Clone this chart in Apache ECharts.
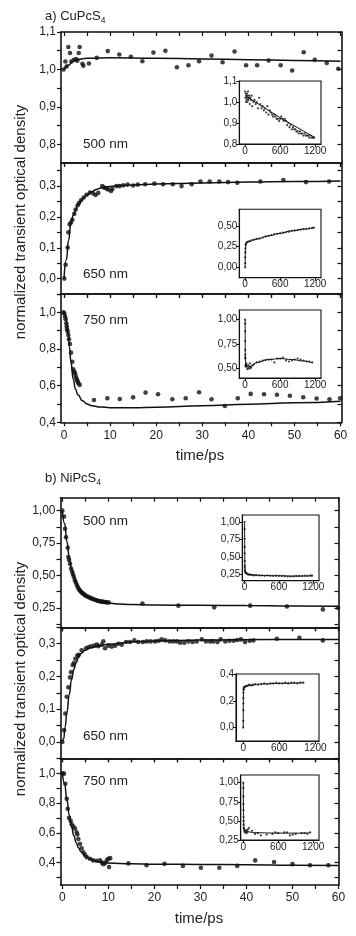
<!DOCTYPE html>
<html><head><meta charset="utf-8">
<script src="https://cdn.jsdelivr.net/npm/echarts@6/dist/echarts.min.js"></script>
<style>html,body{margin:0;padding:0;background:#fff}#c{width:356px;height:936px}</style>
</head><body><div id="c"></div>
<script>
// ---------------- DATA ----------------
// x-axis tick labels (time/ps) and inset x tick labels
const timeTicks = [0, 10, 20, 30, 40, 50, 60];
const timeMinorTicks = [0, 5, 10, 15, 20, 25, 30, 35, 40, 45, 50, 55, 60];
const insetTimeTicks = [0, 600, 1200];

// y tick labels
const cu500Ticks = [0.8, 0.9, 1.0, 1.1];
const cu650Ticks = [0.0, 0.1, 0.2, 0.3];
const cu750Ticks = [0.4, 0.6, 0.8, 1.0];
const ni500Ticks = [0.25, 0.50, 0.75, 1.00];
const ni650Ticks = [0.0, 0.1, 0.2, 0.3];
const ni750Ticks = [0.4, 0.6, 0.8, 1.0];
const cu500InTicks = [0.8, 0.9, 1.0, 1.1];
const cu650InTicks = [0.00, 0.25, 0.50];
const cu750InTicks = [0.50, 0.75, 1.00];
const ni500InTicks = [0.25, 0.50, 0.75, 1.00];
const ni650InTicks = [0.0, 0.2, 0.4];
const ni750InTicks = [0.25, 0.50, 0.75, 1.00];

// a) CuPcS4, 500 nm
const cu500T = [-0.1,0.58,0.3,0.94,1.3,1.6,2.1,2.6,2.9,3.2,3.4,4.0,4.2,5.4,7.1,9.5,12.0,14.5,17.0,19.4,22.0,24.5,27.0,29.3,32.0,34.4,37.0,39.5,41.9,44.4,47.0,49.5,52.0,54.4,57.0,59.5];
const cu500V = [1.000,1.008,1.021,1.060,1.044,1.021,1.025,1.028,1.023,1.044,1.060,1.015,1.010,1.016,1.031,1.049,1.040,1.034,1.022,1.045,1.050,1.006,1.011,1.022,1.037,1.019,1.048,1.011,1.011,1.024,1.011,0.997,1.046,1.026,1.017,1.002];
const cu500FitT = [0,1,2,3,5,10,20,30,40,50,60];
const cu500FitV = [1.0,1.012,1.022,1.027,1.03,1.031,1.03,1.028,1.026,1.024,1.022];
const cu500InT = [0,5,10,15,20,25,30,35,40,45,50,55,60,70,80,90,100,110,120,140,160,180,200,220,240,260,280,300,320,340,360,380,400,420,440,460,480,500,520,540,560,580,600,620,640,660,680,700,720,740,760,780,800,820,840,860,880,900,920,940,960,980,1000,1020,1040,1060,1080,1100,1120,1140,1160,1180];
const cu500InV = [1.05,1.02,1.04,1.0,1.03,1.01,1.04,1.02,1.0,1.03,1.05,1.01,1.02,1.03,0.99,1.02,1.01,1.03,0.98,1.0,1.01,0.99,1.0,0.97,1.02,0.99,0.97,0.98,0.96,0.97,0.95,0.98,0.94,0.96,0.95,0.94,0.93,0.94,0.93,0.92,0.92,0.91,0.92,0.93,0.92,0.91,0.92,0.91,0.89,0.9,0.88,0.89,0.87,0.88,0.87,0.87,0.86,0.86,0.85,0.86,0.85,0.85,0.84,0.85,0.84,0.84,0.84,0.83,0.84,0.83,0.83,0.83];
const cu500InFitT = [0,600,1200];
const cu500InFitV = [1.03,0.925,0.83];

// a) CuPcS4, 650 nm
const cu650T = [0.07,0.36,0.79,0.94,1.23,1.52,1.81,2.24,2.53,2.96,3.25,3.69,4.26,4.91,5.64,6.36,6.86,7.44,8.3,8.74,9.25,9.6,10.2,10.5,11.4,12.1,12.9,13.8,15.0,16.0,17.6,19.6,21.5,23.6,25.5,27.7,29.6,31.6,33.7,35.6,37.6,42.6,47.6,52.5,57.5];
const cu650V = [0.0,0.045,0.101,0.150,0.176,0.182,0.191,0.210,0.224,0.238,0.245,0.254,0.263,0.272,0.279,0.276,0.271,0.278,0.300,0.295,0.292,0.289,0.284,0.291,0.300,0.300,0.303,0.305,0.302,0.305,0.306,0.308,0.306,0.306,0.300,0.306,0.315,0.315,0.315,0.313,0.311,0.315,0.320,0.313,0.315];
const cu650FitT = [0,0.5,1,1.5,2,2.5,3,4,5,6,7,8,10,12,15,20,30,40,50,60];
const cu650FitV = [0,0.06,0.125,0.18,0.205,0.222,0.238,0.258,0.272,0.282,0.289,0.294,0.299,0.302,0.304,0.307,0.310,0.313,0.315,0.317];
const cu650InT = [0,1,2,3,5,8,15,30,50,80,120,160,200,250,300,350,400,450,500,550,600,650,700,750,800,850,900,950,1000,1050,1100,1150,1180];
const cu650InV = [0,0.05,0.12,0.18,0.23,0.27,0.29,0.3,0.31,0.32,0.33,0.335,0.345,0.35,0.36,0.37,0.38,0.39,0.4,0.405,0.41,0.42,0.425,0.43,0.44,0.445,0.45,0.455,0.46,0.465,0.47,0.475,0.48];
const cu650InFitT = [0,5,20,60,200,400,600,800,1000,1180];
const cu650InFitV = [0,0.22,0.29,0.31,0.34,0.38,0.41,0.44,0.46,0.48];

// a) CuPcS4, 750 nm
const cu750T = [-0.14,0.07,0.22,0.36,0.51,0.58,0.65,0.80,0.94,1.08,1.30,1.52,1.81,2.02,2.24,2.39,2.53,2.68,2.82,2.97,3.11,3.4,6.5,9.4,12.1,15.0,17.7,20.4,23.5,26.4,29.3,32.0,34.9,37.7,40.5,43.4,46.2,49.0,51.9,54.8,57.6,59.9];
const cu750V = [1.0,0.995,0.977,0.962,0.940,0.922,0.907,0.895,0.876,0.853,0.827,0.780,0.730,0.689,0.676,0.667,0.652,0.640,0.631,0.622,0.613,0.604,0.522,0.531,0.527,0.536,0.562,0.553,0.526,0.531,0.564,0.526,0.489,0.531,0.555,0.553,0.550,0.545,0.537,0.530,0.526,0.531];
const cu750FitT = [0,0.3,0.6,0.9,1.2,1.5,2,2.5,3,4,5,6,8,10,12,15,20,30,40,50,60];
const cu750FitV = [1.0,0.985,0.945,0.885,0.81,0.73,0.635,0.58,0.55,0.518,0.5,0.49,0.483,0.48,0.479,0.48,0.482,0.49,0.498,0.506,0.515];
const cu750InT = [0,0.5,1,1.5,2,2.5,3,4,6,9,12,15,20,30,40,50,60,70,80,90,100,120,150,200,250,300,350,400,450,500,550,600,650,700,750,800,850,900,950,1000,1050,1100,1150];
const cu750InV = [1.0,0.96,0.88,0.78,0.69,0.64,0.61,0.6,0.52,0.53,0.53,0.54,0.55,0.52,0.49,0.53,0.5,0.52,0.55,0.5,0.51,0.53,0.54,0.56,0.57,0.58,0.585,0.59,0.59,0.56,0.6,0.6,0.61,0.58,0.57,0.58,0.59,0.6,0.59,0.58,0.57,0.57,0.56];
const cu750InFitT = [0,3,8,30,100,200,400,600,800,1000,1150];
const cu750InFitV = [1.0,0.6,0.52,0.5,0.52,0.56,0.59,0.6,0.59,0.575,0.555];

// b) NiPcS4, 500 nm
const ni500T = [0,0.37,0.59,0.8,1.17,1.3,1.45,1.67,1.9,2.1,2.3,2.5,2.7,2.9,3.1,3.3,3.5,3.7,3.9,4.1,4.3,4.5,4.8,5.0,5.3,5.6,5.9,6.2,6.5,6.8,7.1,7.4,7.7,8.0,8.3,8.6,8.9,9.2,9.5,9.8,10.1,17.4,25.2,33.0,40.8,48.8,56.6,59.9];
const ni500V = [1.0,0.954,0.86,0.795,0.714,0.642,0.62,0.59,0.553,0.53,0.51,0.49,0.465,0.45,0.43,0.415,0.40,0.39,0.38,0.372,0.365,0.36,0.352,0.346,0.34,0.335,0.33,0.325,0.32,0.316,0.312,0.308,0.305,0.302,0.30,0.298,0.296,0.295,0.293,0.292,0.291,0.284,0.267,0.254,0.267,0.260,0.238,0.25];
const ni500FitT = [0,0.5,1,1.5,2,2.5,3,3.5,4,5,6,7,8,9,10,12,15,20,30,40,50,60];
const ni500FitV = [1.0,0.90,0.76,0.64,0.55,0.49,0.44,0.40,0.375,0.345,0.325,0.31,0.30,0.292,0.287,0.28,0.275,0.272,0.27,0.268,0.265,0.262];
const ni500InT = [0,0.5,1,1.5,2,3,4,5,7,10,15,20,30,40,60,80,100,130,160,200,250,300,350,400,450,500,550,600,650,700,750,800,850,900,950,1000,1050,1100,1150,1180];
const ni500InV = [1.0,0.9,0.76,0.64,0.55,0.44,0.375,0.345,0.31,0.29,0.28,0.27,0.265,0.26,0.25,0.245,0.25,0.24,0.235,0.24,0.235,0.235,0.23,0.235,0.23,0.23,0.232,0.23,0.228,0.225,0.22,0.22,0.222,0.228,0.23,0.23,0.232,0.23,0.235,0.232];
const ni500InFitT = [0,2,5,10,40,100,300,600,900,1180];
const ni500InFitV = [1.0,0.55,0.345,0.29,0.26,0.245,0.235,0.23,0.225,0.23];

// b) NiPcS4, 650 nm
const ni650T = [0,0.37,0.65,0.95,1.3,1.67,1.89,2.25,2.5,2.83,3.26,3.56,4.2,5.15,5.65,6.17,6.9,7.5,7.8,8.56,8.9,9.28,10.0,10.74,11.46,12.18,12.9,13.85,14.7,15.65,16.5,17.5,18.35,19.2,20.15,20.9,21.6,22.4,23.3,24.1,24.9,25.6,26.5,27.4,28.3,29.2,30.3,31.2,32.1,32.8,33.7,34.4,35.4,36.3,37.2,38.0,38.8,39.7,40.7,41.5,46.6,51.5,56.6];
const ni650V = [0.0,0.036,0.087,0.138,0.167,0.197,0.213,0.235,0.241,0.254,0.264,0.266,0.28,0.286,0.289,0.292,0.294,0.297,0.292,0.297,0.307,0.286,0.294,0.291,0.294,0.300,0.297,0.305,0.305,0.310,0.305,0.305,0.307,0.307,0.307,0.309,0.313,0.310,0.307,0.307,0.307,0.303,0.303,0.307,0.305,0.307,0.313,0.307,0.307,0.307,0.305,0.313,0.307,0.309,0.309,0.311,0.313,0.305,0.309,0.310,0.315,0.318,0.310];
const ni650FitT = [0,0.3,0.6,1,1.5,2,2.5,3,3.5,4,5,6,8,10,15,20,30,45,60];
const ni650FitV = [0,0.01,0.045,0.09,0.145,0.19,0.222,0.242,0.258,0.27,0.28,0.287,0.293,0.298,0.305,0.308,0.311,0.313,0.313];
const ni650InT = [0,0.5,1,1.5,2,3,4,6,10,20,40,60,80,100,130,160,200,250,300,350,400,450,500,550,600,650,700,750,800,850,900,950,1000];
const ni650InV = [0,0.05,0.13,0.18,0.22,0.26,0.28,0.29,0.3,0.305,0.31,0.31,0.315,0.32,0.315,0.32,0.325,0.32,0.325,0.33,0.325,0.33,0.33,0.335,0.33,0.33,0.335,0.33,0.335,0.335,0.33,0.335,0.335];
const ni650InFitT = [0,4,20,100,300,600,1000];
const ni650InFitV = [0,0.27,0.3,0.315,0.325,0.33,0.335];

// b) NiPcS4, 750 nm
const ni750T = [0,0.37,0.65,0.95,1.17,1.46,1.8,2.04,2.4,2.76,3.1,3.26,3.48,3.85,4.2,4.57,4.93,5.3,6.0,6.7,7.5,8.2,8.6,8.9,9.28,9.65,10.0,10.15,10.4,14.35,18.3,22.2,26.2,30.1,34.1,38.0,41.9,46.0,50.0,53.8,57.8];
const ni750V = [1.0,0.997,0.929,0.828,0.762,0.70,0.68,0.658,0.642,0.629,0.603,0.589,0.558,0.525,0.497,0.47,0.452,0.437,0.426,0.415,0.413,0.415,0.40,0.39,0.397,0.415,0.426,0.37,0.43,0.395,0.382,0.392,0.378,0.366,0.366,0.378,0.415,0.404,0.39,0.382,0.382];
const ni750FitT = [0,0.5,1,1.5,2,2.5,3,3.5,4,5,6,7,8,9,10,15,20,30,40,50,60];
const ni750FitV = [1.0,0.93,0.82,0.72,0.64,0.58,0.535,0.50,0.475,0.445,0.425,0.413,0.405,0.40,0.397,0.393,0.39,0.388,0.386,0.383,0.38];
const ni750InT = [0,0.5,1,1.5,2,3,4,5,7,10,15,20,30,40,50,60,70,80,100,150,200,250,300,400,500,550,600,700,750,800,850,900,1000,1050,1100,1150];
const ni750InV = [1.0,0.93,0.82,0.72,0.64,0.55,0.5,0.45,0.41,0.4,0.38,0.36,0.35,0.37,0.34,0.38,0.35,0.39,0.41,0.37,0.33,0.34,0.31,0.32,0.33,0.35,0.34,0.35,0.35,0.31,0.32,0.33,0.34,0.34,0.33,0.35];
const ni750InFitT = [0,3,10,50,200,600,1000,1150];
const ni750InFitV = [1.0,0.55,0.4,0.36,0.345,0.34,0.34,0.345];

// ---------------- BUILD ----------------
const FONT = '"Liberation Sans", Arial, sans-serif';
const INK = '#111';
const grid = [], xAxis = [], yAxis = [], series = [];
const zip = (a, b) => a.map((v, i) => [v, b[i]]);
const fmt = d => v => Number(v).toFixed(d).replace('.', ',');
const plain = v => String(Math.round(v));

function halfSteps(ticks) {
  const out = ticks.slice();
  for (let i = 0; i < ticks.length - 1; i++) out.push((ticks[i] + ticks[i + 1]) / 2);
  return out;
}

function addMain(p) {
  const g = grid.length;
  grid.push({ left: p.left, top: p.top, width: p.width, height: p.height, show: false, containLabel: false });
  const xi = xAxis.length, yi = yAxis.length;
  const line = { show: true, onZero: false, lineStyle: { color: INK, width: 1.6 } };
  xAxis.push({ type: 'value', gridIndex: g, position: 'bottom', min: p.xMin, max: p.xMax, axisLine: line,
    axisTick: { show: true, inside: false, length: 4, customValues: timeMinorTicks, lineStyle: { color: INK, width: 1.2 } },
    axisLabel: { show: !!p.xLabels, customValues: timeTicks, formatter: plain, margin: 7, fontSize: 12, fontFamily: FONT, color: '#222' },
    splitLine: { show: false } });
  xAxis.push({ type: 'value', gridIndex: g, position: 'top', min: p.xMin, max: p.xMax, axisLine: line,
    axisTick: { show: true, inside: true, length: 4, customValues: timeMinorTicks, lineStyle: { color: INK, width: 1.2 } },
    axisLabel: { show: false }, splitLine: { show: false } });
  const allY = p.yAll || halfSteps(p.yTicks);
  yAxis.push({ type: 'value', gridIndex: g, position: 'left', min: p.yMin, max: p.yMax, axisLine: line,
    axisTick: { show: true, inside: false, length: 4, customValues: allY, lineStyle: { color: INK, width: 1.2 } },
    axisLabel: { show: true, customValues: p.yTicks, formatter: fmt(p.yDec), margin: 5, fontSize: 12, fontFamily: FONT, color: '#222' },
    splitLine: { show: false } });
  yAxis.push({ type: 'value', gridIndex: g, position: 'right', min: p.yMin, max: p.yMax, axisLine: line,
    axisTick: { show: true, inside: true, length: 4, customValues: allY, lineStyle: { color: INK, width: 1.2 } },
    axisLabel: { show: false }, splitLine: { show: false } });
  series.push({ type: 'scatter', xAxisIndex: xi, yAxisIndex: yi, data: zip(p.t, p.v), symbol: 'circle', symbolSize: 4.6,
    itemStyle: { color: INK }, silent: true, z: 3 });
  series.push({ type: 'line', xAxisIndex: xi, yAxisIndex: yi, data: zip(p.ft, p.fv), showSymbol: false, smooth: true,
    smoothMonotone: 'x', lineStyle: { color: INK, width: 1.5 }, silent: true, z: 4 });
}

function addInset(p) {
  const g = grid.length;
  grid.push({ left: p.left, top: p.top, width: p.width, height: p.height, show: true, backgroundColor: '#fff',
    borderColor: INK, borderWidth: 1.1, containLabel: false, z: 5 });
  const xi = xAxis.length, yi = yAxis.length;
  const line = { show: true, onZero: false, lineStyle: { color: INK, width: 1.1 } };
  xAxis.push({ type: 'value', gridIndex: g, position: 'bottom', min: p.xMin, max: p.xMax, axisLine: line, z: 5,
    axisTick: { show: true, inside: false, length: 3, customValues: insetTimeTicks, lineStyle: { color: INK, width: 1 } },
    axisLabel: { show: true, customValues: insetTimeTicks, formatter: plain, margin: 2, fontSize: 10, fontFamily: FONT, color: '#222' },
    splitLine: { show: false } });
  yAxis.push({ type: 'value', gridIndex: g, position: 'left', min: p.yMin, max: p.yMax, axisLine: line, z: 5,
    axisTick: { show: true, inside: false, length: 3, customValues: p.yTicks, lineStyle: { color: INK, width: 1 } },
    axisLabel: { show: true, customValues: p.yTicks, formatter: fmt(p.yDec), margin: 2, fontSize: 10, fontFamily: FONT, color: '#222' },
    splitLine: { show: false } });
  series.push({ type: 'scatter', xAxisIndex: xi, yAxisIndex: yi, data: zip(p.t, p.v), symbol: 'circle', symbolSize: 2.2,
    itemStyle: { color: INK }, silent: true, z: 6 });
  series.push({ type: 'line', xAxisIndex: xi, yAxisIndex: yi, data: zip(p.ft, p.fv), showSymbol: false,
    smooth: p.straight ? false : true, smoothMonotone: 'x', lineStyle: { color: INK, width: 1 }, silent: true, z: 7 });
}

// panel a) CuPcS4
const aL = 61, aW = 280.5, aX0 = -0.65, aX1 = 60.2;
addMain({ left: aL, top: 32, width: aW, height: 131, xMin: aX0, xMax: aX1, yMin: 0.75, yMax: 1.1,
  yTicks: cu500Ticks, yDec: 1, t: cu500T, v: cu500V, ft: cu500FitT, fv: cu500FitV });
addMain({ left: aL, top: 163, width: aW, height: 131, xMin: aX0, xMax: aX1, yMin: -0.05, yMax: 0.375,
  yTicks: cu650Ticks, yAll: [-0.05,0,0.05,0.1,0.15,0.2,0.25,0.3,0.35], yDec: 1, t: cu650T, v: cu650V, ft: cu650FitT, fv: cu650FitV });
addMain({ left: aL, top: 294, width: aW, height: 128.3, xMin: aX0, xMax: aX1, yMin: 0.4, yMax: 1.1, xLabels: true,
  yTicks: cu750Ticks, yAll: [0.4,0.5,0.6,0.7,0.8,0.9,1.0,1.1], yDec: 1, t: cu750T, v: cu750V, ft: cu750FitT, fv: cu750FitV });
// panel b) NiPcS4
const bL = 60.5, bW = 278, bX0 = -0.4, bX1 = 60;
addMain({ left: bL, top: 497.7, width: bW, height: 129.6, xMin: bX0, xMax: bX1, yMin: 0.1, yMax: 1.1,
  yTicks: ni500Ticks, yAll: [0.125,0.25,0.375,0.5,0.625,0.75,0.875,1.0], yDec: 2, t: ni500T, v: ni500V, ft: ni500FitT, fv: ni500FitV });
addMain({ left: bL, top: 627.3, width: bW, height: 131, xMin: bX0, xMax: bX1, yMin: -0.05, yMax: 0.35,
  yTicks: ni650Ticks, yAll: [-0.05,0,0.05,0.1,0.15,0.2,0.25,0.3,0.35], yDec: 1, t: ni650T, v: ni650V, ft: ni650FitT, fv: ni650FitV });
addMain({ left: bL, top: 758.3, width: bW, height: 126.7, xMin: bX0, xMax: bX1, yMin: 0.25, yMax: 1.1, xLabels: true,
  yTicks: ni750Ticks, yAll: [0.3,0.4,0.5,0.6,0.7,0.8,0.9,1.0], yDec: 1, t: ni750T, v: ni750V, ft: ni750FitT, fv: ni750FitV });

// insets
addInset({ left: 239.3, top: 81, width: 81.7, height: 63, xMin: -100, xMax: 1300, yMin: 0.8, yMax: 1.1, straight: true,
  yTicks: cu500InTicks, yDec: 1, t: cu500InT, v: cu500InV, ft: cu500InFitT, fv: cu500InFitV });
addInset({ left: 239.3, top: 209.3, width: 81.7, height: 68.4, xMin: -100, xMax: 1300, yMin: -0.125, yMax: 0.7,
  yTicks: cu650InTicks, yDec: 2, t: cu650InT, v: cu650InV, ft: cu650InFitT, fv: cu650InFitV });
addInset({ left: 239.3, top: 310, width: 81.7, height: 68, xMin: -100, xMax: 1300, yMin: 0.4, yMax: 1.1,
  yTicks: cu750InTicks, yDec: 2, t: cu750InT, v: cu750InV, ft: cu750InFitT, fv: cu750InFitV });
addInset({ left: 242.3, top: 515, width: 76.7, height: 65.7, xMin: -40, xMax: 1300, yMin: 0.16, yMax: 1.1,
  yTicks: ni500InTicks, yDec: 2, t: ni500InT, v: ni500InV, ft: ni500InFitT, fv: ni500InFitV });
addInset({ left: 236, top: 674, width: 83, height: 67, xMin: -120, xMax: 1260, yMin: -0.1, yMax: 0.4,
  yTicks: ni650InTicks, yDec: 1, t: ni650InT, v: ni650InV, ft: ni650InFitT, fv: ni650InFitV });
addInset({ left: 240.7, top: 775, width: 78.3, height: 65, xMin: -45, xMax: 1300, yMin: 0.25, yMax: 1.1,
  yTicks: ni750InTicks, yDec: 2, t: ni750InT, v: ni750InV, ft: ni750InFitT, fv: ni750InFitV });

// ---------------- TEXT ----------------
const ctx = document.createElement('canvas').getContext('2d');
function textW(s, size) { ctx.font = size + 'px ' + FONT; return ctx.measureText(s).width; }
const txt = (s, x, y, size, extra) => Object.assign({ type: 'text', x, y, silent: true, z: 20,
  style: Object.assign({ text: s, fontSize: size, fontFamily: FONT, fill: '#222', textAlign: 'left', textVerticalAlign: 'middle' }, extra || {}) });
const titleSize = 13;
const graphic = [
  txt('a) CuPcS', 45, 16, titleSize), txt('4', 45 + textW('a) CuPcS', titleSize), 21, 8.5),
  txt('b) NiPcS', 45, 478, titleSize), txt('4', 45 + textW('b) NiPcS', titleSize), 483, 8.5),
  txt('500 nm', 83, 144.3, 13.5), txt('650 nm', 83, 274, 13.5), txt('750 nm', 83, 320, 13.5),
  txt('500 nm', 83, 521, 13.5), txt('650 nm', 83, 736.7, 13.5), txt('750 nm', 83, 781.7, 13.5),
  txt('time/ps', 200, 456, 15, { textAlign: 'center' }), txt('time/ps', 199, 919, 15, { textAlign: 'center' }),
  Object.assign(txt('normalized transient optical density', 21, 222, 15, { textAlign: 'center' }), { rotation: Math.PI / 2 }),
  Object.assign(txt('normalized transient optical density', 21, 679, 15, { textAlign: 'center' }), { rotation: Math.PI / 2 })
];

const chart = echarts.init(document.getElementById('c'), null, { renderer: 'canvas' });
chart.setOption({ backgroundColor: '#fff', animation: false, grid, xAxis, yAxis, series, graphic });
</script>
</body></html>
